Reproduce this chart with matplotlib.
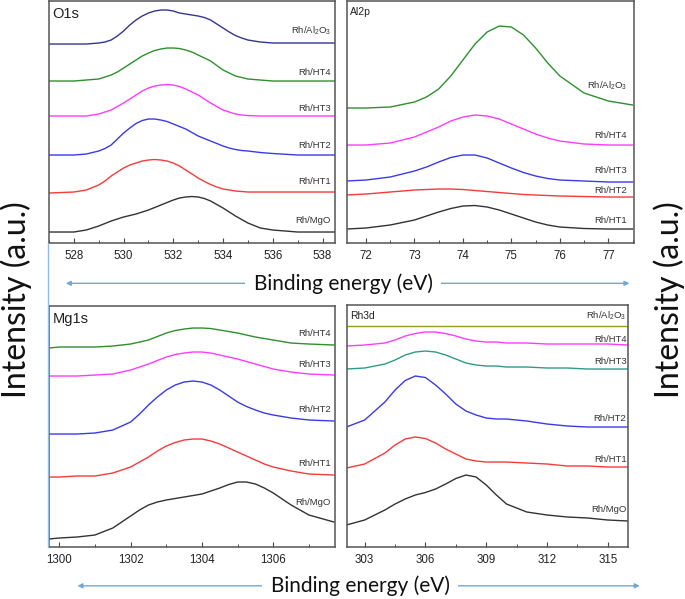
import matplotlib
matplotlib.use("Agg")
import matplotlib.pyplot as plt
from matplotlib.lines import Line2D
from matplotlib.patches import FancyArrowPatch
from matplotlib.ticker import MultipleLocator

plt.rcParams["font.family"] = ["Liberation Sans", "DejaVu Sans"]
plt.rcParams["mathtext.default"] = "regular"

# ---- O1s panel (binding energy, eV / intensity, a.u.) ----
o1s_ev = [527.0, 528.0, 528.5, 529.0, 529.25, 529.5, 529.75, 530.0, 530.25, 530.5, 530.75,
          531.0, 531.25, 531.5, 531.75, 532.0, 532.25, 532.5, 532.75, 533.0, 533.25, 533.5,
          533.75, 534.0, 534.25, 534.5, 534.75, 535.0, 535.5, 536.0, 537.0, 538.5]
o1s_al2o3 = [199, 199, 199, 200, 201, 203, 207, 212, 218, 223, 227,
             230, 232, 233, 233, 232, 230, 229, 228, 227, 225.5, 223,
             219, 215, 211, 207.5, 205, 203, 201, 200, 200, 200]
o1s_ht4 = [162, 162, 163, 164, 166, 168, 171, 175, 179, 183, 187,
           190, 192.5, 194, 195, 195, 194.5, 193, 191, 188, 185, 182,
           177.5, 173, 170, 167, 165.5, 164, 163, 162, 162, 162]
o1s_ht3 = [127, 127, 127, 129, 131, 133, 136.5, 140, 144, 148, 152,
           155, 157, 158, 158.5, 158, 156.5, 154, 151, 148, 144, 140,
           136.5, 133, 131, 129, 128, 127.5, 127, 127, 127, 127]
o1s_ht2 = [88, 88, 89, 92, 94.5, 98, 104, 110, 115, 119.5, 122.5,
           124, 124, 123, 121.5, 119, 116.5, 114, 110.5, 107, 104.5, 102,
           99.5, 97, 95, 93.5, 92.5, 92, 90.5, 89.5, 88, 88]
o1s_ht1 = [50, 51, 53, 58, 62, 67, 71, 75, 78, 80, 82,
           83, 83.5, 83, 82, 80, 77, 73, 69, 65, 61.5, 58.5,
           56, 54, 53, 52, 51.5, 51, 51, 51, 51, 51]
o1s_mgo = [11, 11, 13, 17, 19.5, 22, 24, 26, 27.5, 29, 31,
           33, 35.5, 38, 40.5, 43, 45, 46, 46.5, 46, 44.5, 42,
           38.5, 35, 31, 27, 23.5, 20, 15, 13, 11, 11]

# ---- Al2p panel ----
al2p_ev = [71.6, 72.0, 72.5, 73.0, 73.25, 73.5, 73.75, 74.0, 74.25, 74.5,
           74.75, 75.0, 75.25, 75.5, 75.75, 76.0, 76.5, 77.0, 77.5]
al2p_al2o3 = [135, 135, 136, 141, 146, 154, 167, 183, 199, 211,
              217, 216, 208, 195, 180, 167, 150, 142, 138]
al2p_ht4 = [98, 98, 100, 106, 111, 116, 122, 126, 128, 127,
            124, 119, 114, 109, 105, 102, 99, 98, 98]
al2p_ht3 = [62, 63, 66, 72, 76, 81, 85.5, 88, 88, 85,
            80, 75, 70.5, 67, 64.5, 63, 62, 61, 61]
al2p_ht2 = [48, 49, 51, 53, 53.5, 54, 54, 53.5, 52.5, 51.5,
            50.5, 49.5, 48.5, 48, 47.5, 47, 46.5, 46, 46]
al2p_ht1 = [14, 15, 18, 23, 27, 31, 34.5, 37, 37.5, 36,
            33, 29, 25, 21, 18, 16, 14.5, 14, 14]

# ---- Mg1s panel ----
mg1s_ev = [1299.7, 1300.0, 1300.5, 1301.0, 1301.5, 1302.0, 1302.25, 1302.5, 1302.75,
           1303.0, 1303.25, 1303.5, 1303.75, 1304.0, 1304.25, 1304.5, 1304.75, 1305.0,
           1305.25, 1305.5, 1305.75, 1306.0, 1306.5, 1307.0, 1307.7]
mg1s_ht4 = [199, 200, 200, 200, 201, 203, 205, 207, 210.5,
            214, 216.5, 218, 219, 219, 218.5, 217, 215.5, 214,
            212, 210, 208.5, 207, 204, 203, 202]
mg1s_ht3 = [171, 171, 171, 172, 173, 177, 180, 183, 186.5,
            190, 192.5, 194, 195, 195, 194, 192, 190, 188,
            185.5, 183, 180.5, 178, 175, 173, 172]
mg1s_ht2 = [113, 113, 113, 114, 117, 125, 133, 142, 150,
            157, 162, 165, 166, 165, 162, 157, 151, 145,
            140.5, 137, 134, 132, 129, 127, 126]
mg1s_ht1 = [70, 70, 71, 71, 74, 80, 85, 90, 96,
            101, 104.5, 107, 108, 108, 106, 103, 99, 95,
            91, 87, 83, 80, 76, 73, 72]
mg1s_mgo = [8, 9, 10, 12, 19, 31, 37, 42, 45,
            47, 48.5, 50, 51.5, 53, 56, 59, 62.5, 65,
            65, 63, 59, 54, 42, 32, 25]

# ---- Rh3d panel ----
rh3d_ev = [302.1, 303.0, 304.0, 304.5, 305.0, 305.5, 306.0, 306.5, 307.0, 307.5, 308.0,
           308.5, 309.0, 309.5, 310.0, 311.0, 312.0, 313.0, 314.0, 315.0, 316.0]
rh3d_al2o3 = [221, 221, 221, 221, 221, 221, 221, 221, 221, 221, 221,
              221, 221, 221, 221, 221, 221, 221, 221, 221, 221]
rh3d_ht4 = [201, 202, 204, 207, 211, 213.5, 215, 215, 213.5, 211, 208,
            206, 205, 205, 204, 204, 203, 203, 203, 203, 202]
rh3d_ht3 = [178, 179, 183, 187, 192, 195, 196, 195, 192, 188, 184,
            182, 181, 181, 180, 180, 179, 179, 178, 178, 178]
rh3d_ht2 = [120, 127, 145, 157, 166.5, 171, 169.5, 162, 153, 143, 136,
            132, 129, 128, 128, 126, 123, 121, 120, 120, 120]
rh3d_ht1 = [79, 83, 94, 102, 108, 110, 108.5, 104, 98, 93, 88,
            86, 85, 85, 85, 84, 83, 81, 81, 80, 80]
rh3d_mgo = [22, 27, 37, 43, 48, 52, 54.5, 58, 63, 68.5, 72,
            70, 62, 52, 43, 35, 32, 30, 29, 27, 26]

AL2O3 = r"Rh/Al$_2$O$_3$"
C_NAVY, C_GREEN, C_MAG, C_BLUE = "#34358f", "#2f8f2f", "#ff3cff", "#3a3ae8"
C_RED, C_BLACK, C_OLIVE, C_TEAL = "#f53b3b", "#333333", "#9a9a1e", "#2f9a8c"

panels = [
    dict(rect=[0.0715, 0.5943, 0.4175, 0.404], title="O1s", title_size=10.5,
         xlim=(527.0, 538.5), ylim=(0, 242), major=2, minor=1, x=o1s_ev, lab_x=0.985,
         curves=[(o1s_al2o3, C_NAVY, AL2O3, 212), (o1s_ht4, C_GREEN, "Rh/HT4", 171),
                 (o1s_ht3, C_MAG, "Rh/HT3", 135), (o1s_ht2, C_BLUE, "Rh/HT2", 98),
                 (o1s_ht1, C_RED, "Rh/HT1", 62), (o1s_mgo, C_BLACK, "Rh/MgO", 23)]),
    dict(rect=[0.5066, 0.5943, 0.419, 0.404], title="Al2p", title_size=7.5,
         xlim=(71.61, 77.53), ylim=(0, 242), major=1, minor=0.5, x=al2p_ev, lab_x=0.975,
         curves=[(al2p_al2o3, C_GREEN, AL2O3, 157), (al2p_ht4, C_MAG, "Rh/HT4", 108),
                 (al2p_ht3, C_BLUE, "Rh/HT3", 73), (al2p_ht2, C_RED, "Rh/HT2", 53),
                 (al2p_ht1, C_BLACK, "Rh/HT1", 23)]),
    dict(rect=[0.0715, 0.0868, 0.4175, 0.4023], title="Mg1s", title_size=10.5,
         xlim=(1299.71, 1307.73), ylim=(0, 241), major=2, minor=1, x=mg1s_ev, lab_x=0.985,
         curves=[(mg1s_ht4, C_GREEN, "Rh/HT4", 214), (mg1s_ht3, C_MAG, "Rh/HT3", 183),
                 (mg1s_ht2, C_BLUE, "Rh/HT2", 138), (mg1s_ht1, C_RED, "Rh/HT1", 84),
                 (mg1s_mgo, C_BLACK, "Rh/MgO", 45)]),
    dict(rect=[0.5066, 0.0868, 0.410, 0.404], title="Rh3d", title_size=7.5,
         xlim=(302.13, 315.99), ylim=(0, 242), major=3, minor=1.5, x=rh3d_ev, lab_x=0.995,
         curves=[(rh3d_al2o3, C_OLIVE, AL2O3, 231), (rh3d_ht4, C_MAG, "Rh/HT4", 208),
                 (rh3d_ht3, C_TEAL, "Rh/HT3", 186), (rh3d_ht2, C_BLUE, "Rh/HT2", 129),
                 (rh3d_ht1, C_RED, "Rh/HT1", 88), (rh3d_mgo, C_BLACK, "Rh/MgO", 38)]),
]

fig = plt.figure(figsize=(6.85, 5.99), dpi=100)

for p in panels:
    ax = fig.add_axes(p["rect"])
    for ys, color, label, ly in p["curves"]:
        ax.plot(p["x"], ys, color=color, lw=1.0)
        ax.text(p["lab_x"], ly, label, transform=ax.get_yaxis_transform(),
                ha="right", va="center", fontsize=6.8, color="#333333")
    ax.text(0.012, 0.975, p["title"], transform=ax.transAxes, ha="left", va="top",
            fontsize=p["title_size"], color="#222222")
    ax.set_xlim(*p["xlim"])
    ax.set_ylim(*p["ylim"])
    ax.xaxis.set_major_locator(MultipleLocator(p["major"]))
    ax.xaxis.set_minor_locator(MultipleLocator(p["minor"]))
    ax.tick_params(axis="x", which="major", direction="in", length=3.5, width=0.8,
                   color="#444444", labelsize=8.3, pad=5, labelcolor="#222222")
    ax.tick_params(axis="x", which="minor", direction="in", length=2, width=0.7,
                   color="#444444")
    ax.set_yticks([])
    for s in ax.spines.values():
        s.set_color("#555555")
        s.set_linewidth(1.1)

big = dict(family=["Lato", "DejaVu Sans"], color="#111111")
fig.text(0.024, 0.5, "Intensity (a.u.)", rotation=90, ha="center", va="center",
         fontsize=23, **big)
fig.text(0.977, 0.5, "Intensity (a.u.)", rotation=90, ha="center", va="center",
         fontsize=23, **big)

arrow_col = "#6fa8d6"
# (text x, text y, arrow left end, arrow right end) in figure fractions
for x_txt, y_txt, x0, x1 in [(0.501, 0.527, 0.092, 0.923), (0.526, 0.022, 0.109, 0.938)]:
    fig.text(x_txt, y_txt, "Binding energy (eV)", ha="center", va="center",
             fontsize=15, bbox=dict(fc="white", ec="none", pad=6), zorder=3, **big)
    for end in (x0, x1):
        fig.patches.append(FancyArrowPatch(((x0 + x1) / 2, y_txt), (end, y_txt),
                                           transform=fig.transFigure, arrowstyle="-|>",
                                           mutation_scale=7, color=arrow_col, lw=1.0,
                                           zorder=2))

fig.lines.append(Line2D([0.0705, 0.0705], [0.087, 0.594], transform=fig.transFigure,
                        color="#8fbde3", lw=1.0))

fig.savefig("out.png", dpi=100)
